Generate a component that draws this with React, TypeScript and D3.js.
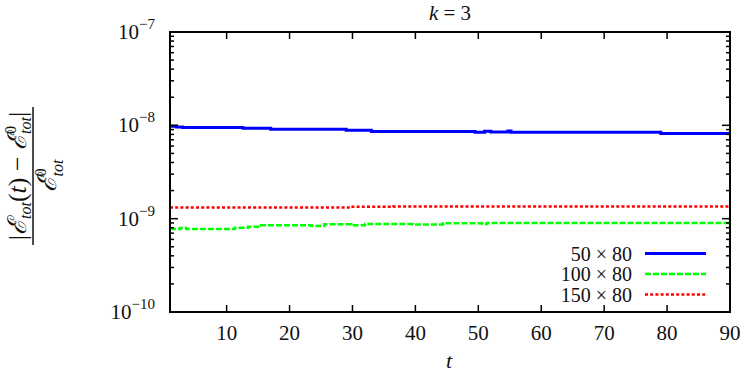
import * as d3 from 'd3';
import React, { useEffect, useRef } from 'react';

// data (t, relative energy error)
const blueT = [1, 2, 3, 12.6, 17, 29, 33, 49.5, 51, 52, 54.7, 55.2, 79, 90];
const blueV = [9.8e-9, 9.6e-9, 9.5e-9, 9.3e-9, 9.1e-9, 8.85e-9, 8.6e-9, 8.42e-9, 8.63e-9, 8.48e-9, 8.7e-9, 8.42e-9, 8.2e-9, 8.2e-9];

const greenT = [1, 2.6, 3.6, 11.3, 13.4, 15.3, 23.5, 25.5, 29.8, 32, 39.6, 44.4, 50.6, 51.4, 90];
const greenV = [7.74e-10, 7.95e-10, 7.74e-10, 8.0e-10, 8.2e-10, 8.5e-10, 8.34e-10, 8.7e-10, 8.5e-10, 8.75e-10, 8.65e-10, 8.95e-10, 8.75e-10, 9.0e-10, 9.0e-10];

const redT = [1, 29.6, 36.5, 90];
const redV = [1.32e-9, 1.34e-9, 1.35e-9, 1.35e-9];

const seriesNames = ['50 × 80', '100 × 80', '150 × 80'];
const xTicks = [10, 20, 30, 40, 50, 60, 70, 80, 90];
const yTicks = [1e-10, 1e-9, 1e-8, 1e-7];
const yTickExp = ['−10', '−9', '−8', '−7'];

const W = 744;
const H = 372;
const margin = { left: 170, top: 32, right: 14, bottom: 60 };
const FONT = "'Liberation Serif', 'DejaVu Serif', serif";

export default function App() {
	const ref = useRef<SVGSVGElement>(null);

	useEffect(() => {
		const svg = d3.select(ref.current);
		svg.selectAll('*').remove();

		const x = d3.scaleLinear().domain([1, 90]).range([margin.left, W - margin.right]);
		const y = d3.scaleLog().domain([1e-10, 1e-7]).range([H - margin.bottom, margin.top]);
		const [x0, x1] = x.range();
		const [y0, y1] = y.range();

		const series = [
			{ t: blueT, v: blueV, color: '#0000ff', width: 3, dash: null },
			{ t: greenT, v: greenV, color: '#00ff00', width: 2.5, dash: '6,2' },
			{ t: redT, v: redV, color: '#ff0000', width: 2.5, dash: '3,2.2' }
		];

		const line = d3.line<[number, number]>()
			.curve(d3.curveStepAfter)
			.x(d => x(d[0]))
			.y(d => y(d[1]));

		const g = svg.append('g');
		series.forEach(s => {
			g.append('path')
				.attr('d', line(s.t.map((t, i) => [t, s.v[i]] as [number, number])))
				.attr('fill', 'none')
				.attr('stroke', s.color)
				.attr('stroke-width', s.width)
				.attr('stroke-dasharray', s.dash);
		});

		// ticks
		const ticks = svg.append('g').attr('stroke', '#000').attr('stroke-width', 1.5);
		xTicks.forEach(t => {
			ticks.append('line').attr('x1', x(t)).attr('x2', x(t)).attr('y1', y0).attr('y2', y0 - 7);
			ticks.append('line').attr('x1', x(t)).attr('x2', x(t)).attr('y1', y1).attr('y2', y1 + 7);
		});
		for (let e = -10; e < -7; e++) {
			for (let m = 2; m <= 9; m++) {
				const yy = y(m * Math.pow(10, e));
				ticks.append('line').attr('x1', x0).attr('x2', x0 + 4).attr('y1', yy).attr('y2', yy);
				ticks.append('line').attr('x1', x1).attr('x2', x1 - 4).attr('y1', yy).attr('y2', yy);
			}
		}
		yTicks.forEach(v => {
			ticks.append('line').attr('x1', x0).attr('x2', x0 + 8).attr('y1', y(v)).attr('y2', y(v));
			ticks.append('line').attr('x1', x1).attr('x2', x1 - 8).attr('y1', y(v)).attr('y2', y(v));
		});

		svg.append('rect')
			.attr('x', x0).attr('y', y1)
			.attr('width', x1 - x0).attr('height', y0 - y1)
			.attr('fill', 'none').attr('stroke', '#000').attr('stroke-width', 2);

		// tick labels
		const labels = svg.append('g').style('font-family', FONT).attr('font-size', 21).attr('fill', '#111');
		xTicks.forEach(t => {
			labels.append('text').attr('x', x(t)).attr('y', 340).attr('text-anchor', 'middle').text(t);
		});
		yTicks.forEach((v, i) => {
			const tx = labels.append('text').attr('x', 155).attr('y', y(v) + 7).attr('text-anchor', 'end');
			tx.append('tspan').text('10');
			tx.append('tspan').attr('dy', -10).attr('font-size', 15).text(yTickExp[i]);
		});

		// legend
		const lg = svg.append('g').style('font-family', FONT);
		series.forEach((s, i) => {
			const ly = 253.5 + i * 20.5;
			lg.append('text')
				.attr('x', 632).attr('y', ly + 7)
				.attr('text-anchor', 'end')
				.attr('font-size', 20).attr('fill', '#111')
				.text(seriesNames[i]);
			lg.append('line')
				.attr('x1', 645).attr('x2', 706).attr('y1', ly).attr('y2', ly)
				.attr('stroke', s.color).attr('stroke-width', s.width)
				.attr('stroke-dasharray', s.dash);
		});

		// title and x label
		const title = svg.append('text')
			.attr('x', (x0 + x1) / 2).attr('y', 20).attr('text-anchor', 'middle')
			.style('font-family', FONT).attr('font-size', 21).attr('fill', '#111');
		title.append('tspan').attr('font-style', 'italic').text('k');
		title.append('tspan').text(' = 3');

		svg.append('text')
			.attr('x', 449).attr('y', 368).attr('text-anchor', 'middle')
			.style('font-family', FONT).attr('font-size', 22).attr('font-style', 'italic').attr('fill', '#111')
			.text('t');

		// y label as a rotated fraction
		const yl = svg.append('g')
			.attr('transform', 'translate(33,176) rotate(-90)')
			.style('font-family', FONT).attr('fill', '#111');
		yl.append('line').attr('x1', -69).attr('x2', 69).attr('y1', 0).attr('y2', 0)
			.attr('stroke', '#111').attr('stroke-width', 1.5);

		const num = yl.append('text').attr('x', 0).attr('y', -7).attr('text-anchor', 'middle').attr('font-size', 26);
		num.append('tspan').text('|');
		num.append('tspan').attr('font-style', 'italic').text('ℰ');
		num.append('tspan').attr('dy', 5).attr('font-size', 16).attr('font-style', 'italic').text('tot');
		num.append('tspan').attr('dy', -5).text('(');
		num.append('tspan').attr('font-style', 'italic').text('t');
		num.append('tspan').text(') − ');
		num.append('tspan').attr('font-style', 'italic').text('ℰ');
		num.append('tspan').attr('dy', -10).attr('font-size', 16).text('0');
		num.append('tspan').attr('dx', -8).attr('dy', 15).attr('font-size', 16).attr('font-style', 'italic').text('tot');
		num.append('tspan').attr('dy', -5).text('|');

		const den = yl.append('text').attr('x', 0).attr('y', 23).attr('text-anchor', 'middle').attr('font-size', 26);
		den.append('tspan').attr('font-style', 'italic').text('ℰ');
		den.append('tspan').attr('dy', -10).attr('font-size', 16).text('0');
		den.append('tspan').attr('dx', -8).attr('dy', 17).attr('font-size', 16).attr('font-style', 'italic').text('tot');
	}, []);

	return (
		<svg ref={ref} width={W} height={H} style={{ position: 'absolute', left: 0, top: 0, background: '#fff' }} />
	);
}
